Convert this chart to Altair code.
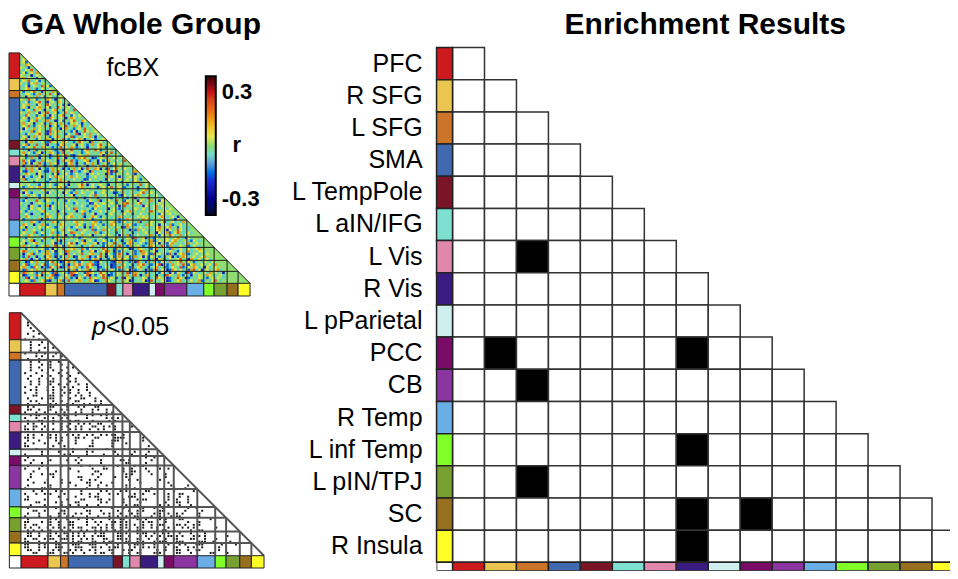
import altair as alt
import pandas as pd

# Values.
REGIONS = ["PFC", "R SFG", "L SFG", "SMA", "L TempPole", "L aIN/IFG", "L Vis", "R Vis",
           "L pParietal", "PCC", "CB", "R Temp", "L inf Temp", "L pIN/TPJ", "SC", "R Insula"]
COLORS = ["#cc1a1e", "#eac550", "#cc7427", "#4169af", "#7a1528", "#7de0d0", "#e088ac", "#3a1c80",
          "#cfeeee", "#7a0c68", "#8b35a0", "#6aaee6", "#80ff28", "#78a030", "#96701e", "#ffff28"]
SIZES = [77, 36, 22, 128, 26, 21, 30, 49, 19, 27, 67, 51, 31, 39, 33, 36]
# enriched (row, column) pairs in the right-hand matrix
ENRICHED = [(6, 2), (9, 1), (9, 7), (10, 2), (12, 7), (13, 2), (14, 7), (14, 9), (15, 7)]

# Hand-typed approximation of the speckle texture: the reference is too blurred to read
# single edges, so this reproduces look and density, not the individual matrix entries.
LEVELS = {"g": 0.0, "t": -0.06, "y": 0.06, "o": 0.16, "r": 0.24, "b": -0.16, "d": -0.24}
SPECKLE = [
"", "g", "ty", "gyb", "tgoy", "ygtdg", "gtygrt", "tybgyto", "ygtgdtyg", "gotygtbyt", "tygrtgybgt",
"ytgbygotgyt", "gtydtygtrgyb", "tgyotgbtygtyg", "ybgtyrgtdygto", "gtyytbgotygrtyd", "tgdygtotybgyttgy",
"ygtrgybtgtoytdgyt", "gtybtgyrtgdgytoytg", "tygotgbytgrytgtybgd", "gytdgtyogtybgtrytgyt", "tbgytrgytdgtyotgbygtr",
"ygtogtydgyrtgybtgotygt", "gtrytgbgyotdytgyrtgbyty", "tygdgtoytgbrygtytdgoytgt", "ygtbygrtgyotgdtybgtyrgtoy", "gotygdtgybtrgytogtbygytdgt",
"tygrtbgytogdtybgyrtgotybgty", "gdytgotyggtrygtdyogtbgytrgtg", "ytgtobgytgdrtyogtgtbydtgrytgy", "gtbytgyrgtdogytgtbytgrdgytogtyg", "tygdgotytygbtyogtygrbtgtygotdgty",
"ygrtgtbytgogdgytrtbgtyogdtgybtgytg", "gtdyoggtytbrgytgoyttbgrytgdotgytgy", "tyobgtrtgydgttbyogtgydgytbgotyrgtyg", "gbtygrgtoygtbtgrtytogbtytdtgtyogbgty", "ytgdtobgtygytbtodgyrtgtbyotgrybtgytgy",
"gotytbgydtgoytbtrgtyttgbtygtgtoybgrtgyt", "tydgttobgytdtgotyrgbdtygtotgtgydgotgyty", "ygbtotgdgytbtgrtydgtbtoyrgtdbtygotgytgyt", "grtybdgtotygtgdtoygrtbtgyobtgdybtogtytgrt", "tobydggrtbtogydtgbyotdgtbytogdtgybgytgytgo",
"ydgtotrygdtotbgytdgotbtygdtotygrgtbotygtgydt", "gtrgotydgtbgogytdtbgotydtrgtoydgbrtyogtygtgy", "ybdtogtytbdtogrtytgdotbtygdotgtgyodrbgytgtyoty", "tgoytgdytgtgbydtgytbtytgtdgytytgdobtyggtytgdgyt",
"ydgtbgtydgtytoygytgotygtgbtgytgtotygtdgtgytygtygt", "gobtgtygtgtbgtyogtgtytgtdbytgtgtdytgtygtytgytbgyty", "tgytgbgtgtbytgtrgydgtgtbygtgtgbtgttgotbygtgyotgytdg", "ygtytgtbygtytbgygtdgtgyrgdtytgygtdgtygtgbgytgrtygty",
"gbtgytyogtgytgyogbgtgtyogtgytdgytgrtgytbtgytdgtygtyg", "tyotgtgtyogtytgytgytbgtytytgtgtygtytgytgtgytbgyotgty", "gdytbgtgtgdytgtgdytbgotygtgybtgytgtdbtogtgytgyrtgygt", "ytgogytbytgtgtytgtgydtgtgtytrgtgytgtgbdytgtyogtgytgyt",
"gtdtgtybgoytgtbgtytygbgtdtytgbgtytbgytgtbgodtgytrgtytg", "tbytgtrgtbygtgtgtbytggtgtbygtodtgygtrgtbygtgdygtyotgdy", "ytgtdtgygtgtbtytgtgtbytggtdbytgygtygbgyorgtgyrtgytgtyg", "gtgdygtbgtodytgtgytgtgtytbgtoygtgytgydgrtgytgtdygtyotyg",
"tgtbytgytgtbytgtgtytrotgtgtbytgtgdgytbgtgtgygtytgtyotgyty", "ytbgtgtgyotgtgdtytgtgdgyotbgtgytytgygtdgyotgtggtyrgtygtyg", "gtytdtgtbgytgtotgbgytgtobgtydtgtbgytgtgytgbgtytgtggtbytgytg", "tgoytgtgtgoygtgytgyogtgtdtgoytbgtgtgtoytgtgtygygytgtyogtgytd",
"ybtgtgtodybtgtygtgytgtgotgybtgtytgtgtbgtoytgtgoygtggtyotgtdytg", "gtgtoytbgtgtoybgytgtyogytgtyotbgtgyotbgytgytobgtgygtgybtgytgtog", "toytgdtgoybgtgtoygtgtoygbgtoytgbgtoygtgtoytbtgtogytgdgytobtgytg", "ygdgtgtytgygtbtygtgbtytgdgbotytgytgtygdbotytgytgytgyrgtyotgbytgt",
"gbotgytgbgtgygtgotygtbotygtrbgtotytgotygtdgbotytgtgyogtdytgrytgtg", "tygtgobtygtgotbtygtrogtygtgtogbtygtgbtygtgbtgtgytgtdytgobtyrgtgyt", "ygtoytgtbgtytgotydgtbygotgydtgtytygtgdytobgtytgtyotgbytgrytgotyg", "gtbygtgtyrgtbgytogtytgbtygtgtgytbtgyotgtygbrtgydgtbytgtytgyogtbytg",
"tytgodtgbytgytodgtgtgytodgytbgtygtbgytdtgoybtgytgobtygtytyogtgytbygt", "ygdtgyogtgtgydtbgtyrgdtyogtgydgbtygrtgtbyotgtytbgotydgtbyogtgtyogtyg", "gotytgbtygotgrgybtoygtgbgtyotgtbygotgrgtbotgytbtgoytgrybogtgygtbtygt", "tgbytgtgytbgdytgrtgyogtrgbytgtgrytgbogtygdbtoygtgbyotgytbogtytgytgyog",
"yrotgtybtgotydgytrogtgybgtoydgtyrogdtbygtgybtrogtgydtgytygtbytgotgtyyt", "gdtyobgtgyogtbtygdotytgrtgyogtrgdytbgrytdgybtgoytbrgytgbrtdgyotbtgytgty", "tbgrtgdtgbyotdgbytogdbytgodtbyrgdtybgotgybgotydgbytgbtrgydtbgoytgytgyog", "ygotdtybgtoytgbtyogtgbyogtbyogdtgbgotyrygbotgytgbtodygbtytgyrgtdogtytgyt",
"gtdbytogtgbyrgtdbyrgotbytgotbdytgtbdyotgtbydrgtbytotbygtotgyrgtygbtgtygtyg", "tyrbtgotyrbgtoytbgdtoyrgtoyrbdgtytdbgtoytgbtoyrtgbtyrdgbtogytrgbyotgytgyto", "yogtbrygdtbrytodbtrygotbtrygtdbtygdbtrygtbrtyogtbtyotgrbtygtrbtygoytgdytgy", "gbrtytogtrtydgtgtydgobytgobytdgbotytgbotydgbtytdgbortygdboytytgbortydgytgyot",
"trogytbtrgytbrtgytbroytgbroytgrygtbtygotrbyogtgbytgtbygtdybygtdrbygtgytogytgd", "ydbtgtrydgtyrdbtgytrdbgtyrdgbtyrgdbtygtgotyrgdtoytgdgtbrygtotbytdgtygtoygtgyt", "gtrdytbgtgyogbtytogbtdygbtrgygtrotygbtrdygbtgtygbtgryg dbtgrygdbtgtygtbgytygt", "tgygbrtgyobdgtyobtrtgyogtgoydbtgoygtgtogydbtgtydbrtgtygdbtgyotgtytgobtgtyrgtg",
"ybrgtdybrgtydbgtyotbrgtoytbrtgoydtgoydbtgtoytgrgtydtbgoydtbrgtyogtdytbgotgytg", "gotybtgotybrgtybrdgtbyrgtbyrtgobtyrgobtytdgbotygtbotytbgotytgdgotyrtgytbgoytgr",
]
SPECKLE = [s.replace(" ", "g") for s in SPECKLE]
CELL = 8

bounds = [0]
for s in SIZES:
    bounds.append(bounds[-1] + s)
blocks = pd.DataFrame({"s": bounds[:-1], "e": bounds[1:], "c": COLORS})

cells = []
for r, row in enumerate(SPECKLE):
    for j, ch in enumerate(row[:r]):
        if (r + 1) * CELL <= 692:
            cells.append({"x": j * CELL, "x2": (j + 1) * CELL, "y": r * CELL, "y2": (r + 1) * CELL,
                          "xc": (j + .5) * CELL, "yc": (r + .5) * CELL, "v": LEVELS[ch], "ch": ch})
cells = pd.DataFrame(cells)
dots = cells[cells.ch.isin(list("orbd"))]

inner = bounds[1:-1]
lines = pd.DataFrame(
    [{"x": 0, "x2": b, "y": b, "y2": b} for b in inner] +
    [{"x": b, "x2": b, "y": b, "y2": 692} for b in inner] +
    [{"x": 0, "x2": 692, "y": 0, "y2": 692}])

FONT = "Liberation Sans"
R_DOMAIN = [-0.39, -0.3, -0.2, -0.1, -0.05, 0, 0.05, 0.1, 0.2, 0.3, 0.39]
R_RANGE = ["#05052a", "#00008c", "#1a2bd8", "#5fa0d8", "#70dcc8", "#8fdc70", "#e4e850", "#f0c828",
           "#e86a18", "#c81414", "#3a0505"]


def label(text, x, y, size, weight="normal", style="normal", align="center"):
    return alt.Chart(pd.DataFrame({"t": [text]})).mark_text(
        font=FONT, fontSize=size, fontWeight=weight, fontStyle=style, align=align,
        baseline="middle", color="black").encode(text="t:N", x=alt.value(x), y=alt.value(y))


def triangle_frame(xs, ys, strip, corner, line_color, line_width):
    top = alt.Chart(blocks)
    left = top.mark_rect(stroke="#222", strokeWidth=1).encode(
        x=alt.X("a:Q", scale=xs, axis=None), x2="b:Q", y=alt.Y("s:Q", scale=ys, axis=None), y2="e:Q",
        color=alt.Color("c:N", scale=None)).transform_calculate(a=str(-strip), b="0")
    bottom = top.mark_rect(stroke="#222", strokeWidth=1).encode(
        x=alt.X("s:Q", scale=xs, axis=None), x2="e:Q", y=alt.Y("a:Q", scale=ys, axis=None), y2="b:Q",
        color=alt.Color("c:N", scale=None)).transform_calculate(a="692", b=str(corner))
    white = alt.Chart(pd.DataFrame({"a": [-strip], "b": [0], "c": [692], "d": [corner]})).mark_rect(
        fill="white", stroke="#222", strokeWidth=1).encode(
        x=alt.X("a:Q", scale=xs, axis=None), x2="b:Q", y=alt.Y("c:Q", scale=ys, axis=None), y2="d:Q")
    grid = alt.Chart(lines).mark_rule(color=line_color, strokeWidth=line_width).encode(
        x=alt.X("x:Q", scale=xs, axis=None), x2="x2:Q", y=alt.Y("y:Q", scale=ys, axis=None), y2="y2:Q")
    return [grid, left, bottom, white]


# ---- fcBX panel
xa = alt.Scale(domain=[-32, 733], nice=False, zero=False)
ya = alt.Scale(domain=[-134, 733], nice=False, zero=False, reverse=True)
color_a = alt.Color("v:Q", scale=alt.Scale(domain=R_DOMAIN, range=R_RANGE, clamp=True),
                    legend=alt.Legend(orient="none", legendX=197, legendY=68, title=None,
                                      values=[-0.3, 0.3], gradientLength=139,
                                      labelExpr="datum.value < 0 ? '-0.3' : '0.3'",
                                      gradientThickness=10, gradientStrokeColor="black",
                                      gradientStrokeWidth=2, labelFont=FONT, labelFontSize=22,
                                      labelFontWeight="bold", labelColor="black", labelOffset=6))
base_tri = alt.Chart(pd.DataFrame({"x": [0, 692], "y": [0, 692], "y2": [692, 692]})).mark_area(
    color="#8fdc70").encode(x=alt.X("x:Q", scale=xa, axis=None), y=alt.Y("y:Q", scale=ya, axis=None), y2="y2:Q")
heat = alt.Chart(cells).mark_rect().encode(
    x=alt.X("x:Q", scale=xa, axis=None), x2="x2:Q", y=alt.Y("y:Q", scale=ya, axis=None), y2="y2:Q", color=color_a)
panel_a = alt.layer(
    base_tri, heat, *triangle_frame(xa, ya, 32, 730, "#1a1a1a", 1),
    label("GA Whole Group", 132, 17, 30, "bold"),
    label("fcBX", 124, 60, 25),
    label("r", 228, 137, 22, "bold"),
).resolve_scale(color="independent").properties(width=255, height=289)

# ---- p<0.05 panel
xb = alt.Scale(domain=[-34, 694], nice=False, zero=False)
yb = alt.Scale(domain=[-22, 729], nice=False, zero=False, reverse=True)
dot_layer = alt.Chart(dots).mark_square(color="black", size=4, opacity=0.9).encode(
    x=alt.X("xc:Q", scale=xb, axis=None), y=alt.Y("yc:Q", scale=yb, axis=None))
panel_b = alt.layer(
    dot_layer, *triangle_frame(xb, yb, 33, 727, "#555", 2),
    label("p", 90, 22, 25, style="italic"),
    label("<0.05", 97, 22, 25, align="left"),
).properties(width=256, height=264)

# ---- enrichment matrix
rows = []
for r in range(16):
    for c in range(r + 1):
        rows.append({"x": c, "x2": c + 1, "y": r, "y2": r + 1,
                     "f": "black" if (r, c) in ENRICHED else "white"})
grid_df = pd.DataFrame(rows)
xc = alt.Scale(domain=[-0.5, 15.5625], nice=False, zero=False)
yc = alt.Scale(domain=[-1.22, 16.26], nice=False, zero=False, reverse=True)
cell_layer = alt.Chart(grid_df).mark_rect(stroke="#333", strokeWidth=1.5, clip=True).encode(
    x=alt.X("x:Q", scale=xc, axis=None), x2="x2:Q", y=alt.Y("y:Q", scale=yc, axis=None), y2="y2:Q",
    color=alt.Color("f:N", scale=None))
side = pd.DataFrame({"name": REGIONS, "c": COLORS, "i": list(range(16))})
side["i2"] = side.i + 1
side["a"] = -0.5
side["b"] = 0
side["t"] = 16
side["u"] = 16.26
side["m"] = side.i + 0.5
left_strip = alt.Chart(side).mark_rect(stroke="#222", strokeWidth=1.5).encode(
    x=alt.X("a:Q", scale=xc, axis=None), x2="b:Q", y=alt.Y("i:Q", scale=yc, axis=None), y2="i2:Q",
    color=alt.Color("c:N", scale=None))
bottom_strip = alt.Chart(side).mark_rect(stroke="#222", strokeWidth=1.5, clip=True).encode(
    x=alt.X("i:Q", scale=xc, axis=None), x2="i2:Q", y=alt.Y("t:Q", scale=yc, axis=None), y2="u:Q",
    color=alt.Color("c:N", scale=None))
corner_c = alt.Chart(pd.DataFrame({"a": [-0.5], "b": [0], "c": [16], "d": [16.26]})).mark_rect(
    fill="white", stroke="#222", strokeWidth=1.5, clip=True).encode(
    x=alt.X("a:Q", scale=xc, axis=None), x2="b:Q", y=alt.Y("c:Q", scale=yc, axis=None), y2="d:Q")
names = alt.Chart(side).mark_text(font=FONT, fontSize=25, align="right", baseline="middle", color="black").encode(
    text="name:N", x=alt.value(-14), y=alt.Y("m:Q", scale=yc, axis=None))
panel_c = alt.layer(
    cell_layer, left_strip, bottom_strip, corner_c, names,
    label("Enrichment Results", 269, 17, 30, "bold"),
).properties(width=514, height=563)

left_col = alt.vconcat(panel_a, panel_b, spacing=8, bounds="flush")
chart = alt.hconcat(left_col, panel_c, spacing=428, bounds="flush").resolve_scale(
    color="independent"
).configure_view(stroke=None).properties(padding=0)
chart.save("out.html", embed_options={"renderer": "svg", "actions": False})
